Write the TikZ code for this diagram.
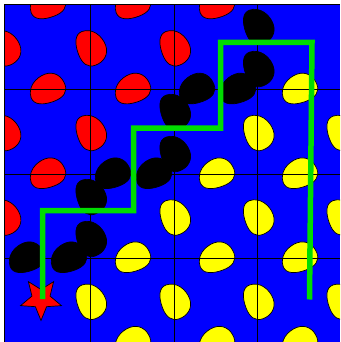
\documentclass[tikz,border=0pt]{standalone}
\usetikzlibrary{calc}
\definecolor{tileblue}{RGB}{0,0,255}
\definecolor{eggred}{RGB}{255,0,0}
\definecolor{eggyellow}{RGB}{255,255,0}
\definecolor{pathgreen}{RGB}{0,220,0}
\newcommand{\eggblob}[4]{%
  \draw[blob,fill=#1,shift={(#2,#3)},rotate=#4,scale=1.1]
    (-16,2) .. controls (-16,-8) and (-6,-14) .. (3,-14)
    .. controls (12,-14) and (17,-7) .. (17,1)
    .. controls (17,8) and (12,12) .. (2,12)
    .. controls (-8,12) and (-16,9) .. cycle;}
\begin{document}
\begin{tikzpicture}[x=1pt,y=-1pt,
  blob/.style={draw=black,line width=0.7pt},
  gridline/.style={draw=black,line width=0.9pt},
  route/.style={draw=pathgreen,line width=5.5pt,line join=miter,line cap=butt},
  starshape/.style={draw=black,line width=0.7pt,fill=eggred,line join=miter}]
\useasboundingbox (0,0) rectangle (340,342);
\fill[white] (0,0) rectangle (340,342);
\fill[tileblue] (4.3,4.7) rectangle (340,342);
\begin{scope}
\clip (4.3,4.7) rectangle (340,342);
% horizontal-edge eggs
\foreach \x/\y in {47/4.7,132/4.7,216/4.7,47/89.8,132/89.8,47/174.5}{\eggblob{eggred}{\x}{\y}{20}}
\foreach \x/\y in {299/89.8,216/174.5,299/174.5,132/258.5,216/258.5,299/258.5,132/343,216/343,299/343}{\eggblob{eggyellow}{\x}{\y}{20}}
\foreach \x/\y in {196/89.8,237/89.8,112/174.5,153/174.5,26/258.5,68/258.5}{\eggblob{black}{\x}{\y}{20}}
% vertical-edge eggs
\foreach \x/\y in {4.3/47.3,90/47.3,174/47.3,4.3/132,90/132,4.3/216.5}{\eggblob{eggred}{\x}{\y}{-70}}
\foreach \x/\y in {257.5/132,341/132,174/216.5,257.5/216.5,341/216.5,90/300.8,174/300.8,257.5/300.8,341/300.8}{\eggblob{eggyellow}{\x}{\y}{-70}}
\foreach \x/\y in {257.5/26,257.5/68,174/111,174/153,90/196,90/238}{\eggblob{black}{\x}{\y}{-70}}
\end{scope}
% grid lines
\foreach \x in {4.3,90,174,257.5}{\draw[gridline] (\x,4.7) -- (\x,342);}
\foreach \y in {4.7,89.8,174.5,258.5}{\draw[gridline] (4.3,\y) -- (340,\y);}
% star
\coordinate (s) at (41,299);
\draw[starshape,shift={(s)}] (270:21.5pt) -- (306:9.5pt) -- (342:21.5pt) -- (18:9.5pt) -- (54:21.5pt) -- (90:9.5pt) -- (126:21.5pt) -- (162:9.5pt) -- (198:21.5pt) -- (234:9.5pt) -- cycle;
% green route
\coordinate (g0) at (42.5,299);
\coordinate (g1) at (42.5,210.5);
\coordinate (g2) at (133.5,210.5);
\coordinate (g3) at (133.5,128);
\coordinate (g4) at (220.5,128);
\coordinate (g5) at (220.5,42.5);
\coordinate (g6) at (312,42.5);
\coordinate (g7) at (309.5,299.5);
\draw[route] (g0) -- (g1) -- (g2) -- (g3) -- (g4) -- (g5) -- (g6) -- (g7);
\end{tikzpicture}
\end{document}
